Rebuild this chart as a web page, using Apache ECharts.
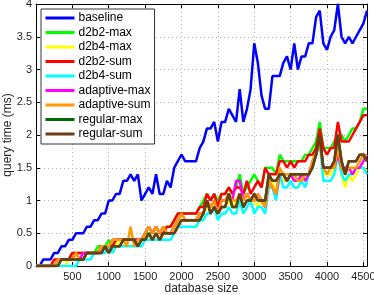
<!DOCTYPE html>
<html><head><meta charset="utf-8">
<script src="https://cdn.jsdelivr.net/npm/echarts@6/dist/echarts.min.js"></script>
<style>html,body{margin:0;padding:0;background:#fff}#c{width:374px;height:295px}</style>
</head><body><div id="c"></div>
<script>
const sizes = [0,50,100,150,200,250,300,350,400,450,500,550,600,650,700,750,800,850,900,950,
1000,1050,1100,1150,1200,1250,1300,1350,1400,1450,1500,1550,1600,1650,1700,1750,1800,1850,1900,1950,
2000,2050,2100,2150,2200,2250,2300,2350,2400,2450,2500,2550,2600,2650,2700,2750,2800,2850,2900,2950,
3000,3050,3100,3150,3200,3250,3300,3350,3400,3450,3500,3550,3600,3650,3700,3750,3800,3850,3900,3950,
4000,4050,4100,4150,4200,4250,4300,4350,4400,4450,4500,4550];

const baseline = [0,0,0.1,0.1,0.1,0.2,0.2,0.3,0.3,0.4, 0.4,0.5,0.5,0.5,0.6,0.6,0.7,0.7,0.8,0.8,
1.0,1.0,1.1,1.1,1.3,1.3,1.4,1.3,1.4,1.0, 1.1,1.2,1.1,1.4,1.1,1.1,1.3,1.2,1.5,1.6,
1.7,1.6,1.6,1.6,1.6,1.8,1.9,2.1,2.1,2.2, 1.9,2.2,2.2,2.4,2.3,2.2,2.7,2.2,2.4,2.7,
3.4,3.1,2.6,2.4,2.4,2.9,2.9,2.9,3.1,3.2, 3.0,3.4,3.0,3.2,3.2,3.4,3.4,3.8,3.9,3.4,
3.3,3.5,3.6,4.0,3.5,3.4,3.5,3.4,3.5,3.6, 3.7,3.9];

const d2b2Max = [0,0,0,0,0,0,0.1,0.1,0.1,0.1, 0.2,0.2,0.2,0.2,0.2,0.2,0.2,0.3,0.3,0.3,
0.4,0.3,0.4,0.4,0.4,0.4,0.4,0.4,0.4,0.4, 0.5,0.5,0.5,0.6,0.5,0.5,0.6,0.6,0.7,0.8,
0.8,0.8,0.8,0.8,0.8,0.9,1.0,1.1,1.0,1.1, 1.0,1.1,1.1,1.2,1.1,1.2,1.4,1.1,1.2,1.3,
1.4,1.3,1.2,1.5,1.5,1.5,1.4,1.7,1.6,1.6, 1.6,1.6,1.6,1.6,1.7,1.7,1.8,1.9,2.2,1.8,
1.8,1.8,1.9,2.0,2.0,1.9,2.0,2.1,2.1,2.2, 2.4,2.4];

const d2b4Max = [0,0,0,0,0,0,0,0,0,0.1, 0.1,0.1,0.1,0.1,0.2,0.2,0.2,0.2,0.3,0.3,
0.3,0.3,0.3,0.4,0.4,0.4,0.4,0.4,0.4,0.4, 0.4,0.5,0.4,0.5,0.4,0.5,0.5,0.5,0.6,0.7,
0.7,0.7,0.7,0.7,0.7,0.8,0.8,0.9,0.9,1.0, 0.8,0.9,0.9,1.0,0.9,1.0,1.1,0.9,1.0,1.0,
1.0,0.9,1.0,0.9,1.3,1.3,1.1,1.4,1.3,1.3, 1.4,1.3,1.3,1.4,1.3,1.4,1.6,1.8,1.9,1.4,
1.4,1.4,1.5,1.7,1.4,1.2,1.4,1.3,1.4,1.5, 1.5,1.45];

const d2b2Sum = [0,0,0,0,0,0.1,0.1,0.1,0.1,0.1, 0.2,0.2,0.2,0.2,0.2,0.2,0.2,0.2,0.3,0.3,
0.3,0.3,0.4,0.4,0.4,0.4,0.4,0.4,0.4,0.4, 0.5,0.6,0.5,0.6,0.5,0.5,0.6,0.6,0.7,0.8,
0.8,0.8,0.8,0.8,0.8,0.9,0.9,1.1,1.0,1.1, 0.9,1.1,1.1,1.2,1.1,1.2,1.2,1.1,1.3,1.1,
1.2,1.3,1.2,1.5,1.4,1.4,1.4,1.6,1.6,1.5, 1.6,1.5,1.6,1.6,1.6,1.7,1.7,1.8,2.1,1.8,
1.7,1.8,1.8,2.2,1.9,1.9,1.9,2.0,2.1,2.2, 2.3,2.3];

const d2b4Sum = [0,0,0,0,0,0,0,0,0,0, 0,0,0.1,0.1,0.1,0.1,0.2,0.2,0.2,0.2,
0.3,0.2,0.3,0.3,0.3,0.3,0.3,0.3,0.3,0.3, 0.4,0.4,0.4,0.4,0.4,0.4,0.4,0.4,0.5,0.6,
0.6,0.6,0.6,0.6,0.6,0.7,0.7,0.8,0.8,0.9, 0.7,0.8,0.8,0.9,0.8,0.8,1.0,0.8,0.9,1.0,
0.8,0.9,0.9,0.8,1.2,1.2,1.0,1.4,1.2,1.2, 1.3,1.2,1.2,1.3,1.2,1.4,1.5,1.7,1.9,1.3,
1.3,1.3,1.4,1.7,1.4,1.3,1.4,1.4,1.5,1.5, 1.5,1.4];

const adaptiveMax = [0,0,0,0,0,0,0.1,0.1,0.1,0.1, 0.1,0.2,0.1,0.2,0.2,0.2,0.2,0.2,0.3,0.3,
0.3,0.4,0.4,0.4,0.4,0.4,0.4,0.4,0.4,0.4, 0.5,0.6,0.5,0.6,0.5,0.6,0.5,0.5,0.6,0.7,
0.8,0.7,0.7,0.7,0.7,0.8,0.8,1.0,0.9,1.0, 0.8,1.0,1.0,1.1,1.0,1.3,1.3,1.0,1.1,1.0,
1.0,1.1,1.0,0.9,1.3,1.2,1.1,1.4,1.4,1.3, 1.4,1.3,1.3,1.4,1.3,1.4,1.6,1.7,1.9,1.5,
1.5,1.5,1.5,1.7,1.5,1.5,1.5,1.4,1.5,1.5, 1.6,1.7];

const adaptiveSum = [0,0,0,0,0,0,0.1,0.1,0.1,0.1, 0.1,0.2,0.1,0.1,0.2,0.2,0.2,0.2,0.3,0.3,
0.3,0.4,0.4,0.4,0.4,0.3,0.6,0.3,0.4,0.4, 0.5,0.6,0.5,0.6,0.5,0.6,0.5,0.5,0.6,0.7,
0.8,0.7,0.7,0.7,0.7,0.8,0.8,1.0,0.9,1.0, 0.8,1.0,1.0,1.1,1.0,1.0,1.1,1.0,1.1,1.0,
1.0,1.1,1.0,0.9,1.3,1.2,1.1,1.5,1.4,1.4, 1.4,1.4,1.3,1.3,1.4,1.4,1.6,1.7,1.9,1.5,
1.4,1.5,1.5,1.8,1.5,1.4,1.5,1.5,1.5,1.6, 1.7,1.7];

const regularMax = [0,0,0,0,0,0,0,0.1,0.1,0.1, 0.1,0.1,0.1,0.1,0.2,0.2,0.2,0.2,0.2,0.3,
0.2,0.3,0.3,0.3,0.4,0.4,0.4,0.4,0.3,0.4, 0.4,0.5,0.4,0.5,0.4,0.5,0.5,0.5,0.5,0.6,
0.7,0.7,0.7,0.7,0.7,0.7,0.8,1.0,0.8,0.9, 0.8,0.9,0.9,1.1,0.9,0.9,1.1,0.9,1.0,1.0,
1.1,1.0,1.0,1.0,1.4,1.3,1.3,1.4,1.4,1.3, 1.4,1.4,1.4,1.4,1.4,1.4,1.5,1.7,2.0,1.5,
1.5,1.5,1.6,2.0,1.6,1.4,1.6,1.6,1.6,1.7, 1.7,1.6];

const regularSum = [0,0,0,0,0,0,0,0.1,0.1,0.1, 0.1,0.1,0.1,0.1,0.2,0.2,0.2,0.2,0.2,0.3,
0.2,0.3,0.3,0.3,0.4,0.4,0.4,0.4,0.3,0.4, 0.4,0.5,0.4,0.5,0.4,0.5,0.5,0.5,0.5,0.6,
0.7,0.7,0.7,0.7,0.7,0.7,0.8,1.0,0.8,0.9, 0.8,0.9,0.9,1.1,0.9,0.9,1.1,0.9,1.0,1.0,
1.1,1.0,1.0,1.0,1.4,1.3,1.3,1.4,1.4,1.3, 1.4,1.4,1.4,1.4,1.4,1.4,1.5,1.7,2.0,1.5,
1.5,1.5,1.6,2.0,1.6,1.4,1.6,1.6,1.6,1.7, 1.7,1.6];

const seriesNames = ['baseline','d2b2-max','d2b4-max','d2b2-sum','d2b4-sum','adaptive-max','adaptive-sum','regular-max','regular-sum'];
const seriesValues = [baseline,d2b2Max,d2b4Max,d2b2Sum,d2b4Sum,adaptiveMax,adaptiveSum,regularMax,regularSum];
const colors = ['#0000ff','#00ff00','#ffff00','#ff0000','#00ffff','#ff00ff','#ff9900','#006a00','#6b3d12'];

const FONT = 'Liberation Sans, Arial, Helvetica, sans-serif';
const chart = echarts.init(document.getElementById('c'), null, {renderer:'canvas'});

const series = seriesNames.map((n, k) => ({
  name: n, type: 'line', xAxisIndex: 0, yAxisIndex: 0,
  data: sizes.map((x, i) => [x, seriesValues[k][i]]),
  showSymbol: false, symbol: 'none',
  lineStyle: {width: 2.5, color: colors[k]},
  itemStyle: {color: colors[k]},
  z: 2 + k * 0.01
}));

const gridLine = {show: true, lineStyle: {color: '#b4b4b4', type: [1, 3], width: 1}};
const axLine = {show: true, onZero: false, lineStyle: {color: '#000', width: 1}};
const tick = {show: true, inside: true, length: 4, lineStyle: {color: '#000'}};
const plain = v => String(v);

chart.setOption({
  animation: false,
  backgroundColor: '#fff',
  grid: {left: 36, right: 7, top: 4, bottom: 29, containLabel: false, outerBoundsMode: 'none'},
  legend: {
    data: seriesNames, orient: 'vertical', left: 41, top: 9,
    icon: 'rect', itemWidth: 29, itemHeight: 3, itemGap: 2.5,
    padding: [3, 4, 4, 4.5],
    backgroundColor: '#fff', borderColor: '#333', borderWidth: 1,
    textStyle: {fontFamily: FONT, fontSize: 12, color: '#000', padding: [0, 0, 0, -1]}
  },
  xAxis: [{
    type: 'value', min: 0, max: 4550, interval: 500, position: 'bottom',
    name: 'database size', nameLocation: 'middle', nameGap: 16.5, nameMoveOverlap: false,
    nameTextStyle: {fontFamily: FONT, fontSize: 12, color: '#262626'},
    axisLine: axLine, axisTick: tick, splitLine: gridLine,
    axisLabel: {fontFamily: FONT, fontSize: 11, color: '#262626', margin: 5, showMinLabel: false, showMaxLabel: false, formatter: plain, hideOverlap: false}
  }, {
    type: 'value', min: 0, max: 4550, interval: 500, position: 'top',
    axisLine: axLine, axisTick: tick, splitLine: {show: false}, axisLabel: {show: false}
  }],
  yAxis: [{
    type: 'value', min: 0, max: 4, interval: 0.5, position: 'left',
    name: 'query time (ms)', nameLocation: 'middle', nameGap: 22, nameMoveOverlap: false,
    nameTextStyle: {fontFamily: FONT, fontSize: 12, color: '#262626'},
    axisLine: axLine, axisTick: tick, splitLine: gridLine,
    axisLabel: {fontFamily: FONT, fontSize: 11, color: '#262626', margin: 4, formatter: plain, hideOverlap: false}
  }, {
    type: 'value', min: 0, max: 4, interval: 0.5, position: 'right',
    axisLine: axLine, axisTick: tick, splitLine: {show: false}, axisLabel: {show: false}
  }],
  series: series
});
</script></body></html>
